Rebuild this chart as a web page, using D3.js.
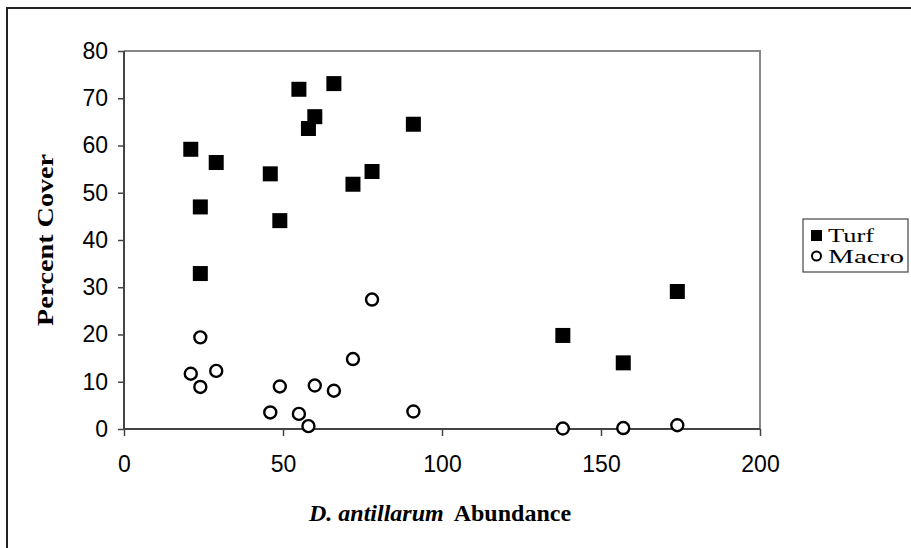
<!DOCTYPE html>
<html>
<head>
<meta charset="utf-8">
<script src="https://cdn.jsdelivr.net/npm/d3@7"></script>
<style>
    body { margin: 0; background: #fff; }
    svg { display: block; }
</style>
</head>
<body>
<div id="chart"></div>
<script>
//Datos
const turfX = [21, 24, 24, 29, 46, 49, 55, 58, 60, 66, 72, 78, 91, 138, 157, 174];
const turfY = [59.2, 47.0, 32.9, 56.4, 54.0, 44.1, 71.9, 63.6, 66.1, 73.1, 51.8, 54.5, 64.5, 19.8, 14.0, 29.1];
const macroX = [21, 24, 24, 29, 46, 49, 55, 58, 60, 66, 72, 78, 91, 138, 157, 174];
const macroY = [11.7, 19.4, 8.9, 12.3, 3.5, 9.0, 3.2, 0.6, 9.2, 8.1, 14.8, 27.4, 3.7, 0.1, 0.2, 0.8];
const xTicks = [0, 50, 100, 150, 200];
const yTicks = [0, 10, 20, 30, 40, 50, 60, 70, 80];
const seriesNames = ['Turf', 'Macro'];

const width = 911, height = 548;
const margin = {top: 51, right: 151, bottom: 119, left: 124};
const serif = '"Liberation Serif", "Times New Roman", serif';
const sans = 'Arial, "Liberation Sans", sans-serif';

let svg = d3.select('#chart')
    .append('svg')
        .attr('width', width)
        .attr('height', height);

//Marco exterior
svg.append('rect')
    .attr('x', 7).attr('y', 8)
    .attr('width', width + 20).attr('height', height + 20)
    .attr('fill', 'none')
    .attr('stroke', '#222')
    .attr('stroke-width', 2);

let x = d3.scaleLinear()
    .domain([0, 200])
    .range([margin.left, width - margin.right]);

let y = d3.scaleLinear()
    .domain([0, 80])
    .range([height - margin.bottom, margin.top]);

//Borde del área de dibujo (arriba y derecha en gris)
svg.append('path')
    .attr('d', 'M' + x(0) + ',' + y(80) + 'H' + x(200) + 'V' + y(0))
    .attr('fill', 'none')
    .attr('stroke', '#888')
    .attr('stroke-width', 2);

//Ejes
let xAxis = function(g) {
    g.call(d3.axisBottom(x).tickValues(xTicks).tickSize(7).tickPadding(20).tickFormat(d3.format('d')));
    g.select('.domain').attr('stroke', '#444').attr('stroke-width', 2).attr('d', 'M' + x(0) + ',0H' + x(200));
    g.selectAll('.tick line').attr('stroke', '#444').attr('stroke-width', 1.5);
    g.selectAll('.tick text')
        .attr('font-family', sans)
        .attr('font-size', 23)
        .attr('fill', '#000');
};

let yAxis = function(g) {
    g.call(d3.axisLeft(y).tickValues(yTicks).tickSize(6).tickPadding(10));
    g.select('.domain').attr('stroke', '#444').attr('stroke-width', 2).attr('d', 'M0,' + y(0) + 'V' + y(80));
    g.selectAll('.tick line').attr('stroke', '#444').attr('stroke-width', 1.5);
    g.selectAll('.tick text')
        .attr('font-family', sans)
        .attr('font-size', 23)
        .attr('fill', '#000');
};

svg.append('g')
    .attr('transform', 'translate(0,' + y(0) + ')')
    .call(xAxis);

svg.append('g')
    .attr('transform', 'translate(' + x(0) + ',0)')
    .call(yAxis);

//Títulos de ejes
let xTitle = svg.append('text')
    .attr('x', 440)
    .attr('y', 521)
    .attr('text-anchor', 'middle')
    .attr('font-family', serif)
    .attr('font-size', 24)
    .attr('font-weight', 'bold');
xTitle.append('tspan').attr('font-style', 'italic').text('D. antillarum');
xTitle.append('tspan').attr('dx', 10).text('Abundance');

svg.append('text')
    .attr('transform', 'translate(53,' + ((y(0) + y(80)) / 2) + ') rotate(-90)')
    .attr('text-anchor', 'middle')
    .attr('font-family', serif)
    .attr('font-size', 23)
    .attr('font-weight', 'bold')
    .attr('textLength', 172)
    .attr('lengthAdjust', 'spacingAndGlyphs')
    .text('Percent Cover');

//Turf (cuadrados)
let sq = 15;
svg.selectAll('.turf')
    .data(d3.zip(turfX, turfY))
    .enter()
    .append('rect')
    .attr('class', 'turf')
    .attr('x', function(d) { return x(d[0]) - sq / 2; })
    .attr('y', function(d) { return y(d[1]) - sq / 2; })
    .attr('width', sq)
    .attr('height', sq)
    .attr('fill', '#000');

//Macro (círculos)
svg.selectAll('.macro')
    .data(d3.zip(macroX, macroY))
    .enter()
    .append('circle')
    .attr('class', 'macro')
    .attr('cx', function(d) { return x(d[0]); })
    .attr('cy', function(d) { return y(d[1]); })
    .attr('r', 6)
    .attr('fill', '#fff')
    .attr('stroke', '#000')
    .attr('stroke-width', 2.4);

//Leyenda
let legend = svg.append('g').attr('transform', 'translate(803,219)');
legend.append('rect')
    .attr('width', 105).attr('height', 53)
    .attr('fill', '#fff')
    .attr('stroke', '#444')
    .attr('stroke-width', 1.2);

legend.append('rect')
    .attr('x', 8).attr('y', 11)
    .attr('width', 11).attr('height', 11)
    .attr('fill', '#000');
legend.append('circle')
    .attr('cx', 13.5).attr('cy', 37)
    .attr('r', 4.5)
    .attr('fill', '#fff')
    .attr('stroke', '#000')
    .attr('stroke-width', 2);

let legendWidths = [46, 76];
legend.selectAll('.leg-text')
    .data(seriesNames)
    .enter()
    .append('text')
    .attr('class', 'leg-text')
    .attr('x', 25)
    .attr('y', function(d, i) { return 23 + i * 21; })
    .attr('font-family', serif)
    .attr('font-size', 18)
    .attr('textLength', function(d, i) { return legendWidths[i]; })
    .attr('lengthAdjust', 'spacingAndGlyphs')
    .text(function(d) { return d; });
</script>
</body>
</html>
